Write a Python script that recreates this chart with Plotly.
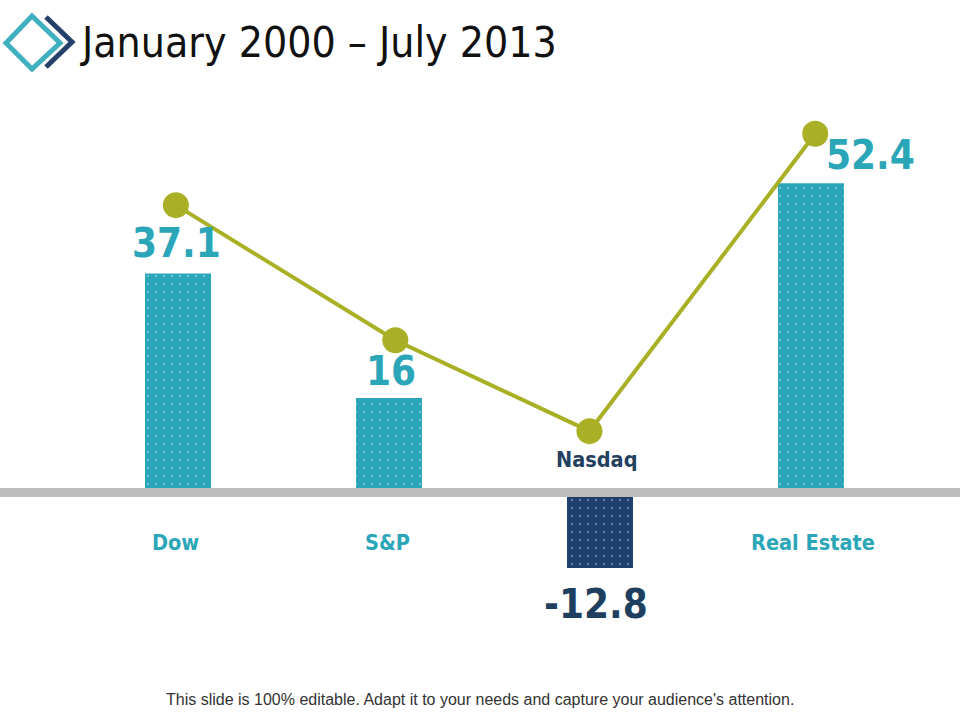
import plotly.graph_objects as go

categories = ["Dow", "S&P", "Nasdaq", "Real Estate"]
gain_positions = [0, 1, 3]
gain_values = [37.1, 16, 52.4]
loss_positions = [2]
loss_values = [-12.8]
gain_color = "#2ba6b9"
loss_color = "#1f3f6e"
line_positions = [-0.01, 1.03, 1.95, 3.02]
line_values = [48.7, 25.8, 10.4, 60.8]
value_labels = ["37.1", "16", "-12.8", "52.4"]
value_label_colors = ["#2ba6b9", "#2ba6b9", "#1f3f5f", "#2ba6b9"]
value_label_px = [(176, 243), (391, 371), (596, 604), (870, 155)]
category_label_px = [(175, 542), (387, 542), (597, 460), (813, 542)]
category_label_colors = ["#2ba6b9", "#2ba6b9", "#24405f", "#2ba6b9"]
title_text = "January 2000 – July 2013"
footer_text = "This slide is 100% editable. Adapt it to your needs and capture your audience's attention."

W, H = 960, 720
px_per_pos = 211
px_per_val = 5.9
x0_px, y0_px = 178, 492.5
COND = "DejaVu Sans Condensed"

fig = go.Figure()
for xs, ys, col in [(gain_positions, gain_values, gain_color), (loss_positions, loss_values, loss_color)]:
    fig.add_trace(go.Bar(
        x=xs, y=ys, width=66 / px_per_pos,
        marker=dict(color=col, line_width=0,
                    pattern=dict(shape=".", fgcolor="#e4f6f8", bgcolor=col, size=8, solidity=0.05, fillmode="overlay")),
        hoverinfo="skip", showlegend=False))
fig.add_trace(go.Scatter(
    x=line_positions, y=line_values, mode="lines+markers",
    line=dict(color="#a9b026", width=4),
    marker=dict(color="#a9b026", size=26),
    hoverinfo="skip", showlegend=False))

def ann(text, pos, size, color, family=COND, bold=False):
    fig.add_annotation(
        x=pos[0] / W, y=1 - pos[1] / H, xref="paper", yref="paper",
        text=f"<b>{text}</b>" if bold else text, showarrow=False,
        xanchor="center", yanchor="middle",
        font=dict(size=size, color=color, family=family))

for t, p, c in zip(value_labels, value_label_px, value_label_colors):
    ann(t, p, 40, c, bold=True)
for t, p, c in zip(categories, category_label_px, category_label_colors):
    ann(t.replace("&", "&amp;"), p, 21.5, c, bold=True)
ann(title_text, (318, 42), 42.4, "#111111")
ann(footer_text, (480, 699), 16, "#333333", family="Liberation Sans")

fig.add_shape(type="line", xref="paper", x0=0, x1=1, yref="y", y0=0, y1=0,
              line=dict(color="#bdbdbd", width=9), layer="above")

def logo(points, color, close=False):
    path = "M " + " L ".join(f"{x / W},{1 - y / H}" for x, y in points) + (" Z" if close else "")
    fig.add_shape(type="path", xref="paper", yref="paper", path=path, line=dict(color=color, width=5))

logo([(6, 43), (32, 16), (60, 43), (32, 69)], "#3fb0c0", close=True)
logo([(46, 17), (72, 42), (46, 67)], "#24406b")

fig.update_layout(
    width=W, height=H, margin=dict(l=0, r=0, t=0, b=0), autosize=False,
    barmode="overlay",
    paper_bgcolor="white", plot_bgcolor="white",
    xaxis=dict(visible=False, range=[(0 - x0_px) / px_per_pos, (W - x0_px) / px_per_pos]),
    yaxis=dict(visible=False, range=[(y0_px - H) / px_per_val, y0_px / px_per_val]),
)
fig.write_html("out.html", config={"displayModeBar": False},
               post_script="document.body.style.margin='0';document.body.style.overflow='hidden';")
